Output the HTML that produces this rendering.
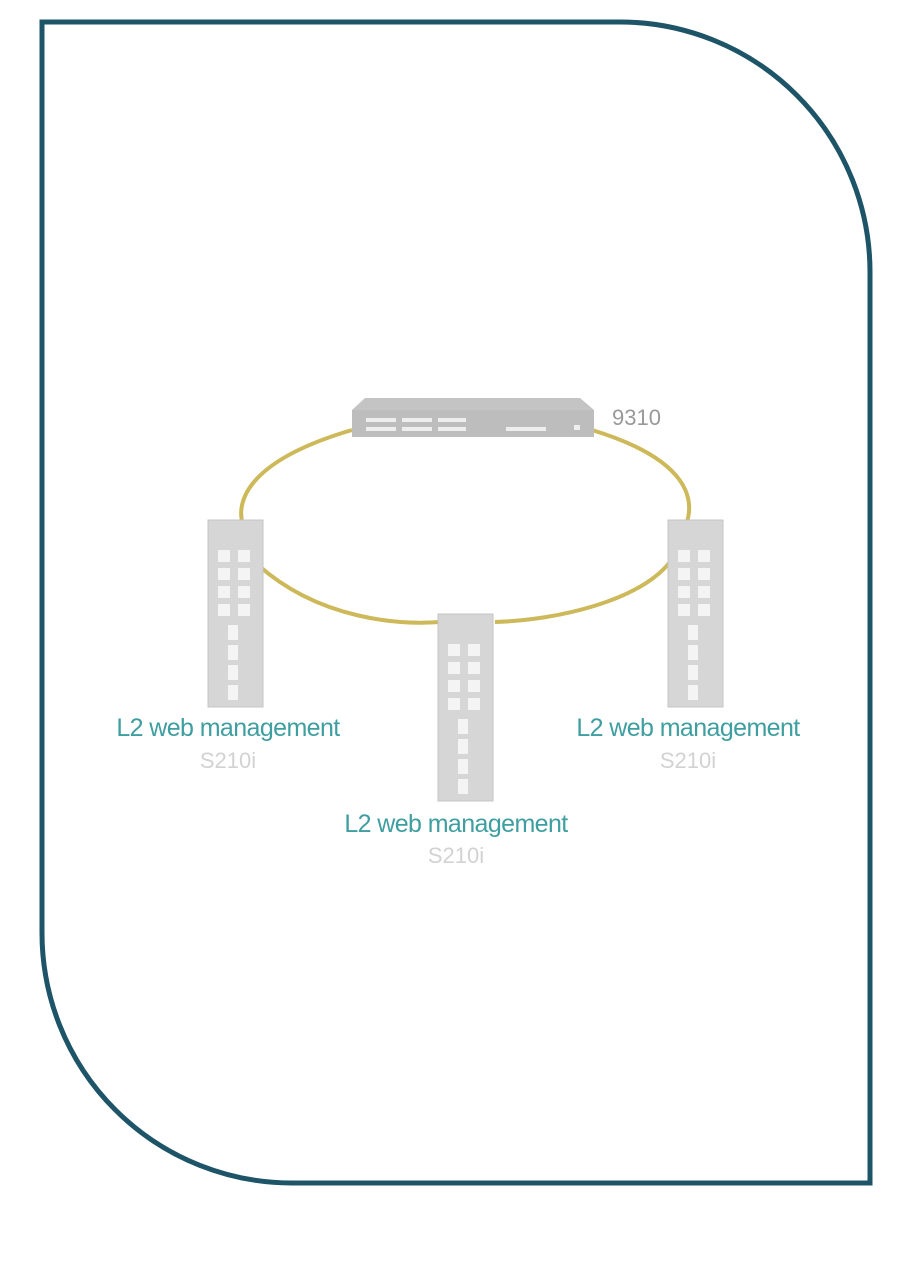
<!DOCTYPE html>
<html><head><style>
body{margin:0;width:914px;height:1280px;background:#fff;position:relative;overflow:hidden;font-family:"Liberation Sans",sans-serif}
.l{position:absolute;color:#3e9ea0;font-size:25px;text-align:center;width:320px;letter-spacing:-0.6px}
.s{position:absolute;color:#d2d2d2;font-size:22px;text-align:center;width:320px}
</style></head><body>
<svg width="914" height="1280" style="position:absolute;left:0;top:0">
<defs>
<g id="v">
<rect x="0" y="0" width="55" height="187" fill="#d6d6d6" stroke="#c4c4c4"/>
<g fill="#f4f4f4">
<rect x="10" y="30" width="12" height="12"/><rect x="30" y="30" width="12" height="12"/>
<rect x="10" y="48" width="12" height="12"/><rect x="30" y="48" width="12" height="12"/>
<rect x="10" y="66" width="12" height="12"/><rect x="30" y="66" width="12" height="12"/>
<rect x="10" y="84" width="12" height="12"/><rect x="30" y="84" width="12" height="12"/>
<rect x="20" y="105" width="10" height="15"/><rect x="20" y="125" width="10" height="15"/>
<rect x="20" y="145" width="10" height="15"/><rect x="20" y="165" width="10" height="15"/>
</g></g>
</defs>
<path d="M42,22 H620 A250,250 0 0 1 870,272 V1183 H292 A250,250 0 0 1 42,933 Z" fill="none" stroke="#1d5468" stroke-width="5"/>
<path d="M352,430 C250,460 235,500 243,525 M592,430 C690,460 695,500 686,525 M258,565 C320,620 400,625 440,622 M495,622 C560,620 640,600 670,562" fill="none" stroke="#cdb95a" stroke-width="4"/>
<polygon points="352,410 365,398 580,398 594,410 594,437 352,437" fill="#c4c4c4"/>
<rect x="352" y="410" width="242" height="27" fill="#bdbdbd"/>
<g fill="#eee">
<rect x="366" y="418" width="30" height="4"/><rect x="366" y="427" width="30" height="4"/>
<rect x="402" y="418" width="30" height="4"/><rect x="402" y="427" width="30" height="4"/>
<rect x="438" y="418" width="28" height="4"/><rect x="438" y="427" width="28" height="4"/>
<rect x="506" y="427" width="40" height="4"/><rect x="574" y="425" width="6" height="5"/>
</g>
<use href="#v" x="208" y="520"/>
<use href="#v" x="668" y="520"/>
<use href="#v" x="438" y="614"/>
</svg>
<div style="position:absolute;left:612px;top:405px;color:#999;font-size:22px">9310</div>
<div class="l" style="left:68px;top:714px">L2 web management</div>
<div class="s" style="left:68px;top:748px">S210i</div>
<div class="l" style="left:528px;top:714px">L2 web management</div>
<div class="s" style="left:528px;top:748px">S210i</div>
<div class="l" style="left:296px;top:810px">L2 web management</div>
<div class="s" style="left:296px;top:843px">S210i</div>
</body></html>
